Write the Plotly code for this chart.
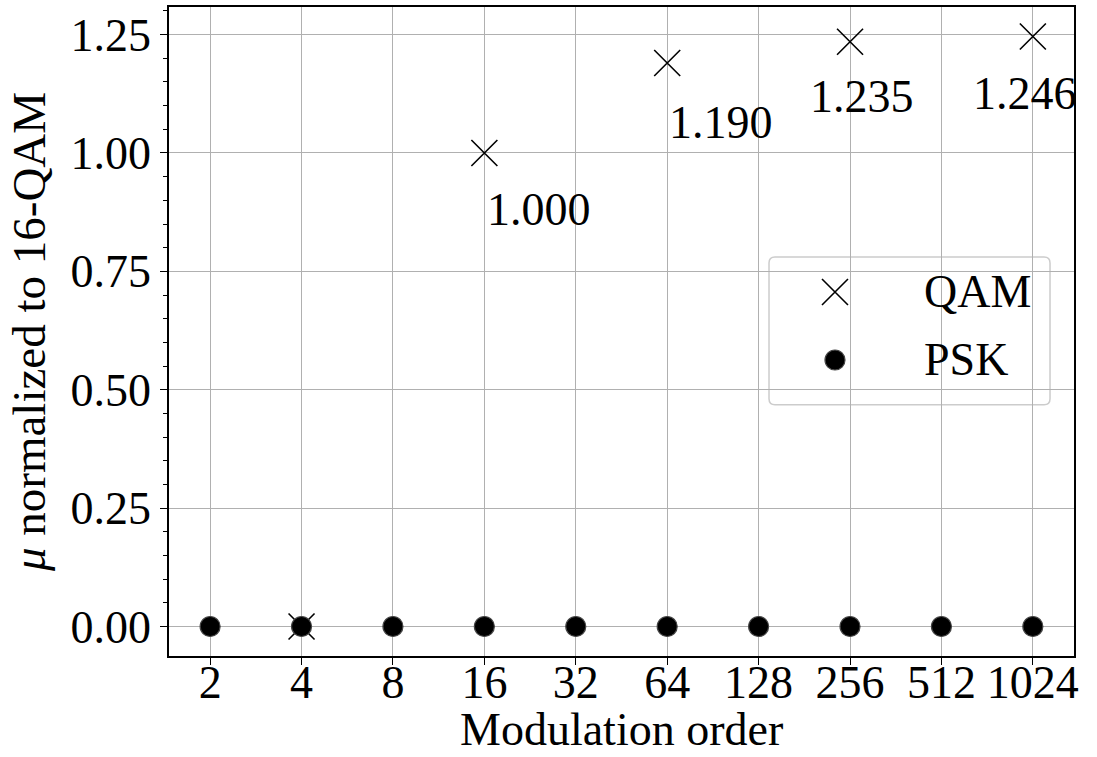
import plotly.graph_objects as go

# Modulation orders on the x axis
orders = ["2", "4", "8", "16", "32", "64", "128", "256", "512", "1024"]

# QAM: orders evaluated and mu normalized to 16-QAM
qam_orders = ["4", "16", "64", "256", "1024"]
qam_mu = [0.0, 1.000, 1.190, 1.235, 1.246]

# PSK: mu normalized to 16-QAM for every order
psk_mu = [0.0, 0.0, 0.0, 0.0, 0.0, 0.0, 0.0, 0.0, 0.0, 0.0]

series_names = ["QAM", "PSK"]

# Y axis ticks
y_ticks = [0.0, 0.25, 0.50, 0.75, 1.00, 1.25]
y_minor = [round(i * 0.05, 2) for i in range(0, 27)]

FONT = "Liberation Serif"
FS_TICK = 46
FS_TITLE = 46

QAM_MARKER = dict(symbol="x-thin", size=26, color="black",
                  line=dict(color="black", width=1.6))
PSK_MARKER = dict(symbol="circle", size=20, color="black",
                  line=dict(color="#454545", width=1.2))

fig = go.Figure()

fig.add_trace(go.Scatter(
    x=[orders.index(o) for o in qam_orders], y=qam_mu, mode="markers",
    name=series_names[0], marker=QAM_MARKER, showlegend=False,
))
fig.add_trace(go.Scatter(
    x=list(range(len(orders))), y=psk_mu, mode="markers",
    name=series_names[1], marker=PSK_MARKER, showlegend=False,
))

# Value labels next to the QAM points (orders 16 and above)
label_shift = {"16": (55, -57), "64": (54, -59), "256": (12, -55), "1024": (-8, -57)}
for o, v in zip(qam_orders, qam_mu):
    if o in label_shift:
        dx, dy = label_shift[o]
        fig.add_annotation(
            x=orders.index(o), y=v, xref="x", yref="y",
            text=f"{v:.3f}", showarrow=False,
            xanchor="center", yanchor="middle", xshift=dx, yshift=dy,
            font=dict(family=FONT, size=FS_TICK, color="black"),
        )

# Legend box (rounded, semi-transparent) in plot-area fractions
bx0, bx1, by0, by1 = 0.663, 0.9735, 0.387, 0.6148
rx, ry = 0.0066, 0.0092
box_path = (
    f"M {bx0+rx},{by0} L {bx1-rx},{by0} Q {bx1},{by0} {bx1},{by0+ry} "
    f"L {bx1},{by1-ry} Q {bx1},{by1} {bx1-rx},{by1} "
    f"L {bx0+rx},{by1} Q {bx0},{by1} {bx0},{by1-ry} "
    f"L {bx0},{by0+ry} Q {bx0},{by0} {bx0+rx},{by0} Z"
)
fig.add_shape(type="path", path=box_path, xref="paper", yref="paper",
              fillcolor="rgba(255,255,255,0.8)",
              line=dict(color="#cccccc", width=1.5), layer="between")

legend_sym_x = 0.7359
legend_text_x = 0.832
legend_rows_y = [0.5609, 0.4561]
for name, marker, ly in zip(series_names, [QAM_MARKER, PSK_MARKER], legend_rows_y):
    fig.add_trace(go.Scatter(
        x=[legend_sym_x], y=[ly], xaxis="x2", yaxis="y2", mode="markers",
        marker=marker, showlegend=False, hoverinfo="skip",
    ))
    fig.add_annotation(
        x=legend_text_x, y=ly, xref="paper", yref="paper", text=name,
        showarrow=False, xanchor="left", yanchor="middle",
        font=dict(family=FONT, size=FS_TICK, color="black"),
    )

# X axis title, placed just under the tick labels
fig.add_annotation(
    x=0.5, y=0, xref="paper", yref="paper", text="Modulation order",
    showarrow=False, xanchor="center", yanchor="bottom", yshift=-101,
    font=dict(family=FONT, size=FS_TITLE, color="black"),
)

fig.update_layout(
    width=1097, height=757,
    margin=dict(l=169, r=23, t=7, b=101),
    plot_bgcolor="white", paper_bgcolor="white",
    font=dict(family=FONT, size=FS_TICK, color="black"),
    showlegend=False,
    xaxis=dict(
        range=[-0.45, 9.45],
        tickvals=list(range(len(orders))), ticktext=orders,
        showgrid=True, gridcolor="#b0b0b0", gridwidth=1,
        showline=True, linecolor="black", linewidth=1.5, mirror=True,
        ticks="outside", ticklen=7, tickwidth=1.3, tickcolor="black",
        ticklabelstandoff=-22,
        tickfont=dict(family=FONT, size=FS_TICK, color="black"),
        zeroline=False, automargin=False,
    ),
    yaxis=dict(
        range=[-0.0623, 1.3083],
        tickvals=y_ticks, tickformat=".2f",
        showgrid=True, gridcolor="#b0b0b0", gridwidth=1,
        showline=True, linecolor="black", linewidth=1.5, mirror=True,
        ticks="outside", ticklen=7, tickwidth=1.3, tickcolor="black",
        tickfont=dict(family=FONT, size=FS_TICK, color="black"),
        minor=dict(tickvals=y_minor, ticks="outside", ticklen=4,
                   tickwidth=1, tickcolor="black", showgrid=False),
        title=dict(text="<i>μ</i> normalized to 16-QAM", standoff=10,
                   font=dict(family=FONT, size=47, color="black")),
        zeroline=False, automargin=False,
    ),
    xaxis2=dict(overlaying="x", range=[0, 1], visible=False, fixedrange=True),
    yaxis2=dict(overlaying="y", range=[0, 1], visible=False, fixedrange=True),
)

fig.write_html("out.html")
